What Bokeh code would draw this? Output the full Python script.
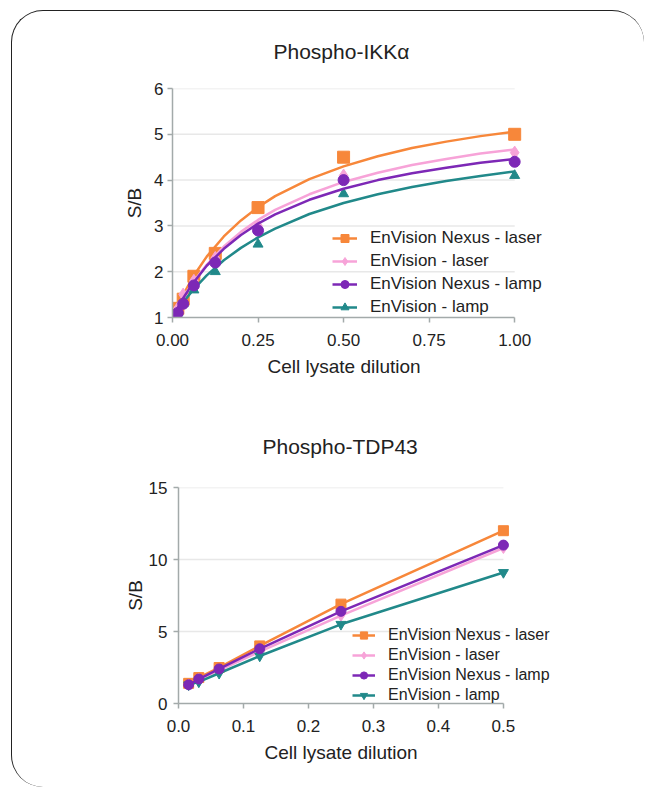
from bokeh.plotting import figure
from bokeh.models import Legend, LegendItem, Range1d, FixedTicker, Title
from bokeh.embed import file_html
from bokeh.resources import INLINE

# ---------------- data ----------------
series_names = ["EnVision Nexus - laser", "EnVision - laser", "EnVision Nexus - lamp", "EnVision - lamp"]

# Phospho-IKKalpha: measured points
ikk_x = [0.0, 0.0156, 0.03125, 0.0625, 0.125, 0.25, 0.5, 1.0]
ikk_nexus_laser = [1.0, 1.2, 1.4, 1.9, 2.4, 3.4, 4.5, 5.0]
ikk_env_laser = [1.0, 1.2, 1.5, 1.8, 2.3, 3.0, 4.1, 4.6]
ikk_nexus_lamp = [1.0, 1.1, 1.3, 1.7, 2.2, 2.9, 4.0, 4.4]
ikk_env_lamp = [1.0, 1.1, 1.3, 1.6, 2.0, 2.6, 3.7, 4.1]

# Phospho-IKKalpha: fitted curves
fit_x = [0.0, 0.03, 0.06, 0.1, 0.15, 0.2, 0.25, 0.3, 0.4, 0.5, 0.6, 0.7, 0.8, 0.9, 1.0]
fit_nexus_laser = [1.0, 1.48, 1.89, 2.33, 2.77, 3.12, 3.41, 3.65, 4.02, 4.30, 4.52, 4.70, 4.84, 4.96, 5.06]
fit_env_laser = [1.0, 1.42, 1.77, 2.15, 2.55, 2.87, 3.13, 3.35, 3.69, 3.96, 4.16, 4.33, 4.46, 4.58, 4.67]
fit_nexus_lamp = [1.0, 1.41, 1.75, 2.13, 2.50, 2.80, 3.05, 3.25, 3.57, 3.81, 4.00, 4.15, 4.27, 4.38, 4.46]
fit_env_lamp = [1.0, 1.32, 1.60, 1.92, 2.25, 2.52, 2.75, 2.94, 3.26, 3.50, 3.69, 3.85, 3.98, 4.09, 4.19]

# Phospho-TDP43
tdp_x = [0.015625, 0.03125, 0.0625, 0.125, 0.25, 0.5]
tdp_nexus_laser = [1.4, 1.8, 2.5, 4.0, 6.9, 12.0]
tdp_env_laser = [1.3, 1.7, 2.3, 3.6, 6.1, 10.8]
tdp_nexus_lamp = [1.3, 1.7, 2.4, 3.8, 6.4, 11.0]
tdp_env_lamp = [1.3, 1.5, 2.1, 3.3, 5.5, 9.1]

ikk_xmax = 1.0
ikk_xticks = [0, 0.25, 0.5, 0.75, 1.0]
ikk_xlabels = ["0.00", "0.25", "0.50", "0.75", "1.00"]
ikk_yticks = [1, 2, 3, 4, 5, 6]
tdp_xmax = 0.5
tdp_xticks = [0, 0.1, 0.2, 0.3, 0.4, 0.5]
tdp_xlabels = ["0.0", "0.1", "0.2", "0.3", "0.4", "0.5"]
tdp_yticks = [0, 5, 10, 15]

x_title = "Cell lysate dilution"
y_title = "S/B"

# ---------------- style ----------------
ORANGE = "#F7873A"
PINK = "#F7A3D8"
PURPLE = "#7D28B6"
TEAL = "#21898A"
AXIS = "#A3AAAA"
GRID = "#E8E8E8"
TXT = "#222222"
FONT = "Liberation Sans"
LFONT = "Liberation Sans"


def style(p, xmax, xticks, xlabels, yticks, title_offset, title_standoff,
          xlab_offset, xlab_standoff):
    p.outline_line_color = None
    p.background_fill_color = "white"
    p.border_fill_color = None
    p.title.align = "left"
    p.title.offset = title_offset
    p.title.standoff = title_standoff
    p.title.text_font = FONT
    p.title.text_font_size = "21px"
    p.title.text_font_style = "normal"
    p.title.text_color = TXT
    p.xgrid.grid_line_color = None
    p.ygrid.grid_line_color = None
    # horizontal grid lines that stop at the last x tick
    gl = yticks[1:]
    p.segment(x0=[0] * len(gl), x1=[xmax] * len(gl), y0=gl, y1=gl,
              line_color=GRID, line_width=1.5)
    p.xaxis.ticker = FixedTicker(ticks=xticks)
    p.xaxis.major_label_overrides = {t: l for t, l in zip(xticks, xlabels)}
    p.xaxis.bounds = (0, xmax)
    p.yaxis.ticker = FixedTicker(ticks=yticks)
    for ax in (p.xaxis[0], p.yaxis[0]):
        ax.axis_line_color = AXIS
        ax.axis_line_width = 1.5
        ax.major_tick_line_color = AXIS
        ax.major_tick_line_width = 1.5
        ax.major_tick_in = 0
        ax.major_tick_out = 5
        ax.minor_tick_line_color = None
        ax.major_label_text_font = FONT
        ax.major_label_text_font_size = "17px"
        ax.major_label_text_color = TXT
        ax.axis_label_text_font = FONT
        ax.axis_label_text_font_size = "19px"
        ax.axis_label_text_font_style = "normal"
        ax.axis_label_text_color = TXT
    p.yaxis.axis_label = y_title
    xt = Title(text=x_title, align="left", offset=xlab_offset, standoff=xlab_standoff,
               text_font=FONT, text_font_size="19px", text_font_style="normal",
               text_color=TXT)
    p.add_layout(xt, "below")


# ---------------- top chart ----------------
p1 = figure(width=633, height=389, x_range=Range1d(0, 1.131), y_range=Range1d(1, 6),
            output_backend="svg", toolbar_location=None,
            min_border_left=160, min_border_right=86, min_border_top=77, min_border_bottom=83,
            title="Phospho-IKKα", margin=(10, 0, 0, 11),
            styles={"border-top": "1.5px solid #222", "border-left": "1.5px solid #222",
                    "border-top-left-radius": "32px", "border-top-right-radius": "32px"})
style(p1, ikk_xmax, ikk_xticks, ikk_xlabels, ikk_yticks,
      title_offset=101, title_standoff=52, xlab_offset=95, xlab_standoff=10)
p1.xaxis.major_label_standoff = 11
p1.yaxis.major_label_standoff = 4
p1.yaxis.axis_label_standoff = 6

top_specs = [
    (fit_nexus_laser, ikk_nexus_laser, ORANGE, "square", 12, series_names[0]),
    (fit_env_laser, ikk_env_laser, PINK, "diamond", 13, series_names[1]),
    (fit_env_lamp, ikk_env_lamp, TEAL, "triangle", 10, series_names[3]),
    (fit_nexus_lamp, ikk_nexus_lamp, PURPLE, "circle", 11, series_names[2]),
]
items1 = {}
for fy, py, col, mk, sz, name in top_specs:
    lr = p1.line(fit_x, fy, line_color=col, line_width=2.5)
    sr = p1.scatter(ikk_x, py, marker=mk, size=sz, fill_color=col, line_color=col)
    items1[name] = LegendItem(label=name, renderers=[lr, sr])

leg1 = Legend(items=[items1[n] for n in series_names], location=(160, 0),
              background_fill_alpha=0, border_line_color=None,
              padding=0, margin=0, spacing=3,
              glyph_width=25, glyph_height=20, label_height=20, label_standoff=13,
              label_text_font=LFONT, label_text_font_size="17px", label_text_color=TXT)
p1.add_layout(leg1, "center")

# ---------------- bottom chart ----------------
p2 = figure(width=633, height=388, x_range=Range1d(0, 0.594), y_range=Range1d(0, 15),
            output_backend="svg", toolbar_location=None,
            min_border_left=166, min_border_right=81, min_border_top=88, min_border_bottom=84,
            title="Phospho-TDP43", margin=(0, 0, 0, 11),
            styles={"border-left": "1.5px solid #222", "border-bottom-left-radius": "32px"})
style(p2, tdp_xmax, tdp_xticks, tdp_xlabels, tdp_yticks,
      title_offset=84, title_standoff=60, xlab_offset=86, xlab_standoff=11)
p2.xaxis.major_label_standoff = 11
p2.yaxis.major_label_standoff = 6
p2.yaxis.axis_label_standoff = 0

bot_specs = [
    (tdp_nexus_laser, ORANGE, "square", 10, series_names[0]),
    (tdp_env_laser, PINK, "diamond", 11, series_names[1]),
    (tdp_env_lamp, TEAL, "inverted_triangle", 10, series_names[3]),
    (tdp_nexus_lamp, PURPLE, "circle", 10, series_names[2]),
]
items2 = {}
for vy, col, mk, sz, name in bot_specs:
    lr = p2.line(tdp_x, vy, line_color=col, line_width=2.5)
    sr = p2.scatter(tdp_x, vy, marker=mk, size=sz, fill_color=col, line_color=col)
    items2[name] = LegendItem(label=name, renderers=[lr, sr])

leg2 = Legend(items=[items2[n] for n in series_names], location=(174, -1),
              background_fill_alpha=0, border_line_color=None,
              padding=0, margin=0, spacing=2,
              glyph_width=23, glyph_height=18, label_height=18, label_standoff=13,
              label_text_font=LFONT, label_text_font_size="16px", label_text_color=TXT)
p2.add_layout(leg2, "center")

open("out.html", "w").write(file_html([p1, p2], INLINE))
